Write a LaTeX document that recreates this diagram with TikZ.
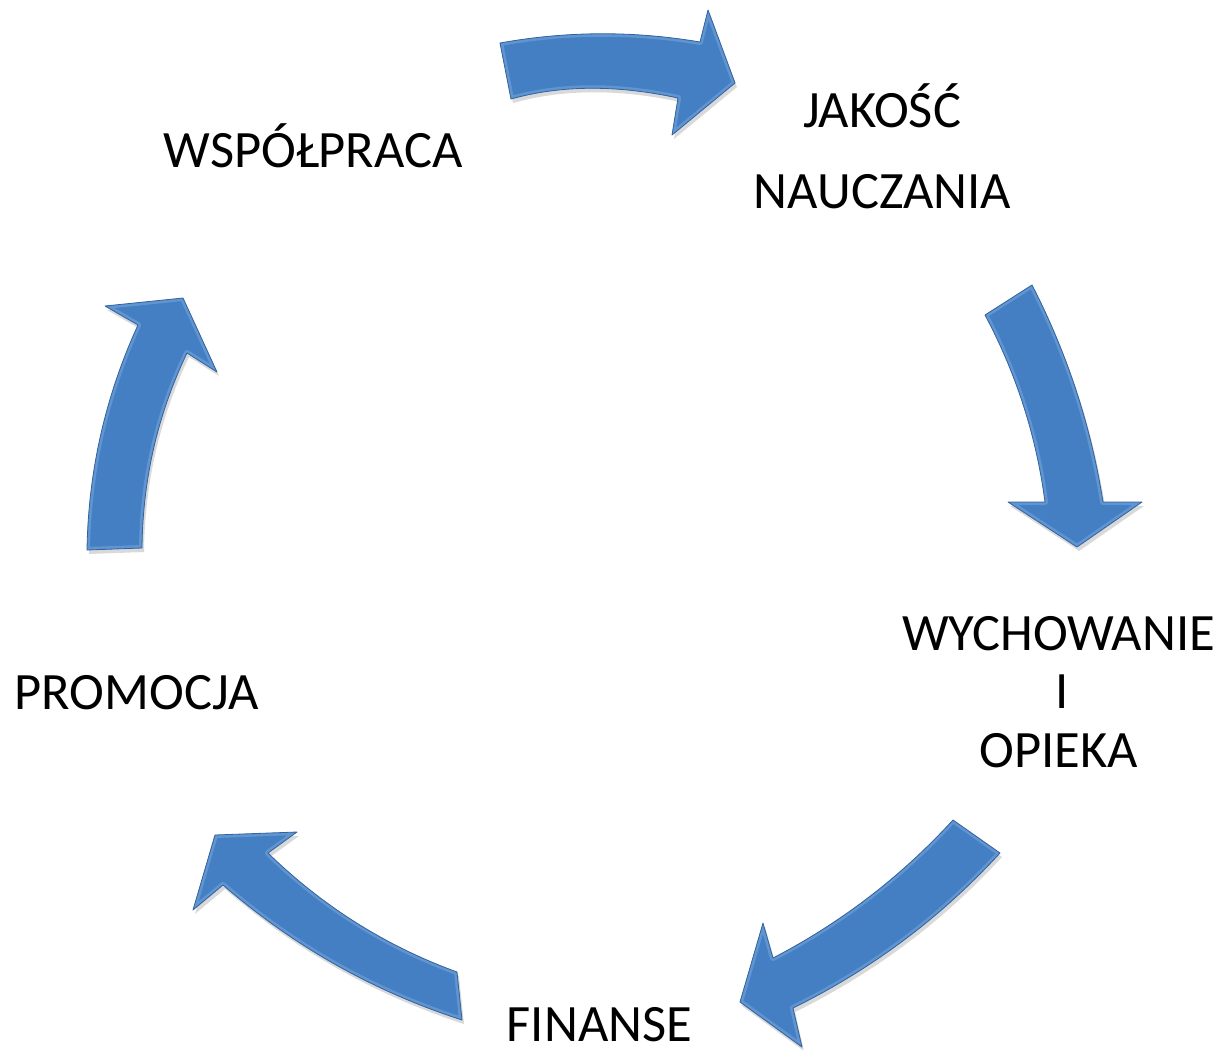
\documentclass[tikz,border=0pt]{standalone}
\usepackage{fontspec}
\setmainfont{Carlito}
\definecolor{arrowblue}{RGB}{68,127,196}
\definecolor{arrowedge}{RGB}{50,98,160}
\definecolor{arrowlight}{RGB}{140,182,228}
\tikzset{
  lbl/.style={inner sep=0pt, anchor=base, font=\fontsize{52.5}{62}\selectfont, text=black},
  arrowshade/.style={fill=black, opacity=0.15},
  arrowbody/.style={fill=arrowblue},
  arrowrim/.style={draw=arrowedge, line width=0.8pt, line join=round},
  arrowglow/.style={draw=arrowlight, line width=6pt, opacity=0.4, line join=round}
}
\newcommand{\bevelarrow}[1]{%
  \begin{scope}[shift={(2,4)}]\fill[arrowshade] #1;\end{scope}
  \begin{scope}
    \fill[arrowbody] #1;
    \clip #1;
    \draw[arrowglow] #1;
  \end{scope}
  \draw[arrowrim] #1;
}
\begin{document}
\begin{tikzpicture}[x=1pt,y=-1pt]
\useasboundingbox (0,0) rectangle (1227,1050);
\fill[white] (0,0) rectangle (1227,1050);

% top arrow (to the right)
\bevelarrow{(500,43) .. controls (566.7,31) and (633.3,30.7) .. (700,42) -- (708,10) -- (735,83) -- (672,135) -- (678,98) .. controls (616.7,84.7) and (561,85) .. (511,99) -- cycle}
% right arrow (down)
\bevelarrow{(1032,285) .. controls (1067.3,353.7) and (1091,426) .. (1103,502) -- (1142,502) -- (1077,547) -- (1008,502) -- (1045,502) .. controls (1036.3,436) and (1016.3,373.7) .. (985,315) -- cycle}
% bottom-right arrow (down-left)
\bevelarrow{(1000,853) .. controls (940.7,917.7) and (871.7,969.3) .. (793,1008) -- (802,1047) -- (740,1002) -- (763,923) -- (773,958) .. controls (841,922.7) and (901,876.7) .. (953,820) -- cycle}
% bottom-left arrow (up-left)
\bevelarrow{(462,1020) .. controls (373.3,991.3) and (293.7,946.3) .. (223,885) -- (193,910) -- (215,835) -- (297,832) -- (268,853) .. controls (322.7,906.3) and (385.7,946) .. (457,972) -- cycle}
% left arrow (up)
\bevelarrow{(87,550) .. controls (88.3,471.3) and (105.3,396.3) .. (138,325) -- (105,306) -- (183,298) -- (217,372) -- (187,353) .. controls (157.7,414.3) and (142.7,479.3) .. (142,548) -- cycle}

\node[lbl] (wsp) at (313,167) {WSPÓŁPRACA};
\node[lbl] (jak) at (882,127) {JAKOŚĆ};
\node[lbl] (nau) at (882.5,208) {NAUCZANIA};
\node[lbl] (wych) at (1058.5,650) {WYCHOWANIE};
\node[lbl] (iconj) at (1062,708) {I};
\node[lbl] (opi) at (1059,767) {OPIEKA};
\node[lbl] (pro) at (136.5,709) {PROMOCJA};
\node[lbl, text depth=0pt] (fin) at (599.5,1041) {FINANSE};
\end{tikzpicture}
\end{document}
